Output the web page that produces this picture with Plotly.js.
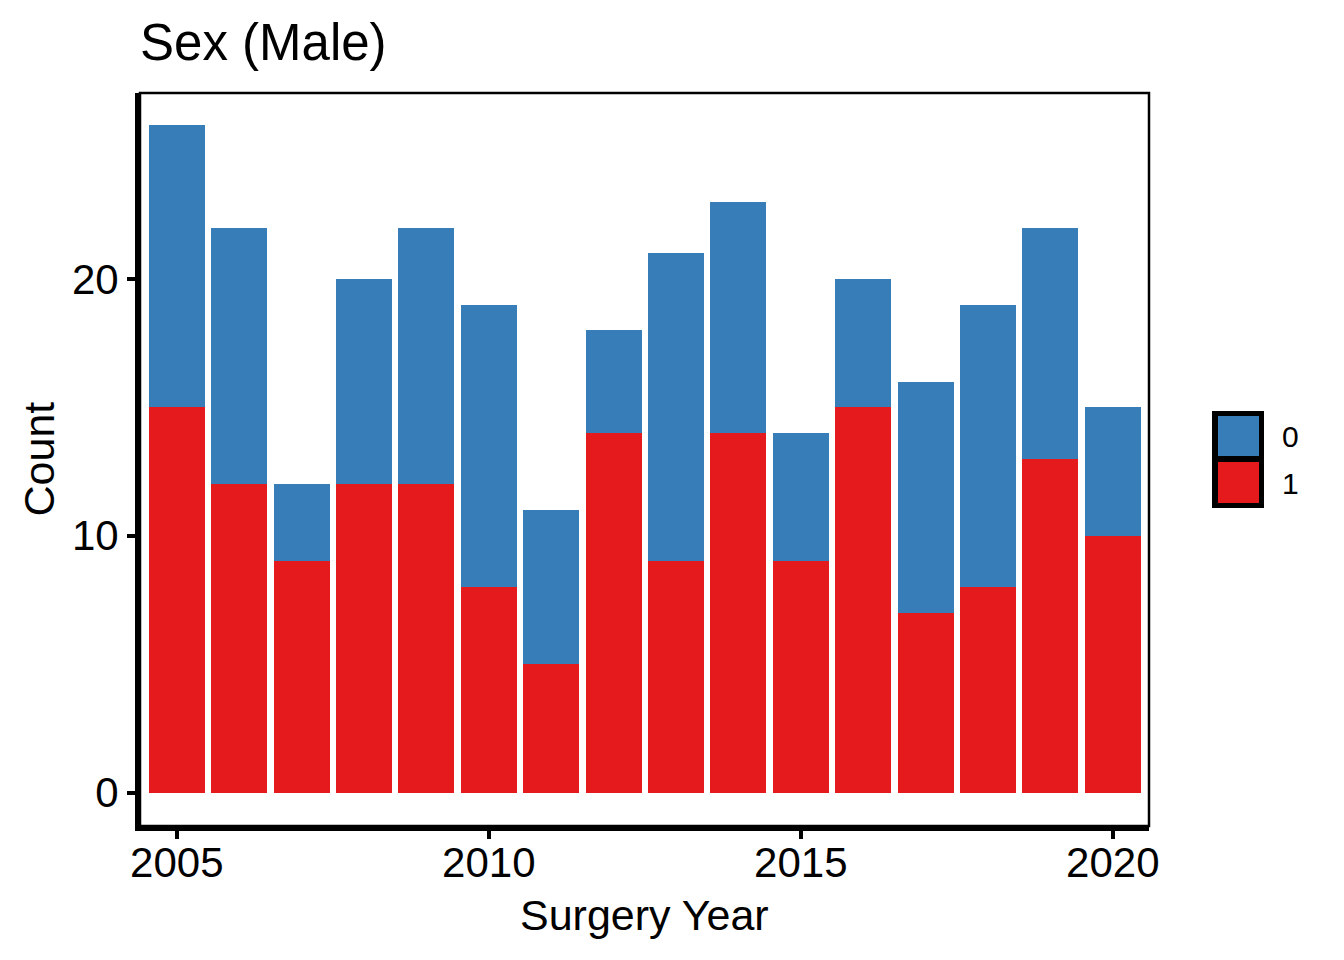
<!DOCTYPE html>
<html>
<head>
<meta charset="utf-8">
<script src="https://cdn.plot.ly/plotly-3.0.1.min.js"></script>
<style>html,body{margin:0;padding:0;background:#fff;}#chart{width:1344px;height:960px;}</style>
</head>
<body>
<div id="chart"></div>
<script>
// Data
const years = [2005,2006,2007,2008,2009,2010,2011,2012,2013,2014,2015,2016,2017,2018,2019,2020];
const male1 = [15,12,9,12,12,8,5,14,9,14,9,15,7,8,13,10];   // group "1" (red, bottom)
const male0 = [11,10,3,8,10,11,6,4,12,9,5,5,9,11,9,5];      // group "0" (blue, top)
const groupLabels = ["0","1"];
const xTicks = [2005,2010,2015,2020];
const yTicks = [0,10,20];

const colors = {"0":"#377EB8","1":"#E41A1C"};

// Layout geometry (pixels)
const W = 1344, H = 960;
const M = {l:140, r:195, t:93, b:134};
const pw = W - M.l - M.r, ph = H - M.t - M.b;
const px = x => (x - M.l) / pw;
const py = y => (H - M.b - y) / ph;

const font = "Liberation Sans, Arial, Helvetica, sans-serif";

const traces = [
  {type:'bar', x:years, y:male1, name:'1', marker:{color:colors["1"], line:{width:0}}, showlegend:false, hoverinfo:'x+y+name'},
  {type:'bar', x:years, y:male0, name:'0', marker:{color:colors["0"], line:{width:0}}, showlegend:false, hoverinfo:'x+y+name'}
];

// custom legend keys
const shapes = [
  {type:'rect', xref:'paper', yref:'paper', x0:0, x1:1, y0:0, y1:1, line:{color:'#000', width:2.5}, fillcolor:'rgba(0,0,0,0)', layer:'above'},
  {type:'rect', xref:'paper', yref:'paper', x0:px(1212), x1:px(1264), y0:py(508), y1:py(411), line:{width:0}, fillcolor:'#000'},
  {type:'rect', xref:'paper', yref:'paper', x0:px(1218), x1:px(1259), y0:py(456), y1:py(416), line:{width:0}, fillcolor:colors[groupLabels[0]]},
  {type:'rect', xref:'paper', yref:'paper', x0:px(1218), x1:px(1259), y0:py(503), y1:py(462), line:{width:0}, fillcolor:colors[groupLabels[1]]}
];
const annotations = [
  {xref:'paper', yref:'paper', x:px(1280), y:py(437), xanchor:'left', yanchor:'middle', text:groupLabels[0], showarrow:false, font:{family:font, size:30, color:'#000'}},
  {xref:'paper', yref:'paper', x:px(1280), y:py(483), xanchor:'left', yanchor:'middle', text:groupLabels[1], showarrow:false, font:{family:font, size:30, color:'#000'}},
  {xref:'paper', yref:'paper', x:0.5, y:py(915), xanchor:'center', yanchor:'middle', text:'Surgery Year', showarrow:false, font:{family:font, size:43, color:'#000'}},
  {xref:'paper', yref:'paper', x:px(38), y:0.5, xanchor:'center', yanchor:'middle', textangle:-90, text:'Count', showarrow:false, font:{family:font, size:43, color:'#000'}}
];

const layout = {
  width:W, height:H,
  margin:M,
  paper_bgcolor:'#fff', plot_bgcolor:'#fff',
  barmode:'stack', bargap:0.1,
  font:{family:font, color:'#000'},
  title:{text:'Sex (Male)', x:0, xref:'paper', xanchor:'left', y:1-42/H, yref:'container', yanchor:'middle', font:{family:font, size:51, color:'#000'}},
  xaxis:{
    range:[2004.41, 2020.58], tickvals:xTicks, ticktext:xTicks.map(String),
    showgrid:false, zeroline:false, showline:true, linecolor:'#000', linewidth:5,
    ticks:'outside', ticklen:8, tickwidth:4, tickcolor:'#000',
    ticklabelstandoff:-12,
    tickfont:{family:font, size:42, color:'#000'}
  },
  yaxis:{
    range:[-1.3, 27.24], tickvals:yTicks, ticktext:yTicks.map(String),
    showgrid:false, zeroline:false, showline:true, linecolor:'#000', linewidth:5,
    ticks:'outside', ticklen:8, tickwidth:4, tickcolor:'#000',
    tickfont:{family:font, size:42, color:'#000'}
  },
  shapes:shapes,
  annotations:annotations
};

Plotly.newPlot('chart', traces, layout, {displayModeBar:false, staticPlot:true});
</script>
</body>
</html>
